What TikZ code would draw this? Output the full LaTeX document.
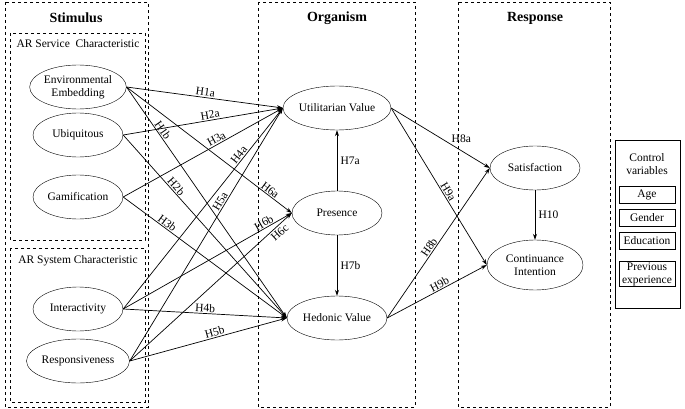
\documentclass[tikz,border=0pt]{standalone}
\usepackage{fontspec}
\setmainfont{Liberation Serif}
\usetikzlibrary{arrows.meta,shapes.geometric}
\begin{document}
\begin{tikzpicture}[x=1pt,y=-1pt,font=\fontsize{11.5}{13}\selectfont,
 el/.style={draw,ellipse,minimum width=90pt,minimum height=44pt,align=center,inner sep=0pt},
 box/.style={draw,dashed},
 ar/.style={-{Stealth[length=6pt,width=4pt]},line width=0.7pt},
 lb/.style={sloped,above,inner sep=1pt},
 hd/.style={font=\fontsize{14}{16}\selectfont\bfseries},
 cv/.style={draw,minimum width=56pt,minimum height=17pt,align=center,inner sep=1pt}]
\useasboundingbox (0,0) rectangle (685,409);
\draw[box] (5,2) rectangle (148,407);
\draw[box] (10,33) rectangle (145,240);
\draw[box] (10,248) rectangle (145,402);
\draw[box] (258,2) rectangle (415,407);
\draw[box] (458,2) rectangle (610,407);
\draw (615,140) rectangle (680,308);
\node[hd] (hs) at (76,18) {Stimulus};
\node[hd] (ho) at (337,18) {Organism};
\node[hd] (hr) at (535,18) {Response};
\node (s1) at (78,44) {AR Service\ \ Characteristic};
\node (s2) at (78,261) {AR System Characteristic};
\node[el] (ee) at (78,87) {Environmental\\Embedding};
\node[el] (ub) at (78,135) {Ubiquitous};
\node[el] (ga) at (78,197) {Gamification};
\node[el] (in) at (78,309) {Interactivity};
\node[el] (re) at (78,361) {Responsiveness};
\node[el,minimum width=100pt] (uv) at (337,108) {Utilitarian Value};
\node[el] (pr) at (337,213) {Presence};
\node[el,minimum width=100pt] (hv) at (337,318) {Hedonic Value};
\node[el] (sa) at (535,168) {Satisfaction};
\node[el,minimum width=96pt,minimum height=50pt] (ci) at (535,265) {Continuance\\Intention};
\node[align=center] (cvt) at (647,164) {Control\\variables};
\node[cv] (c1) at (647,195) {Age};
\node[cv] (c2) at (647,218) {Gender};
\node[cv] (c3) at (647,241) {Education};
\node[cv] (c4) at (647,274) {Previous\\experience};
\draw[ar] (ee.east) -- node[lb,pos=.5]{H1a} (uv.west);
\draw[ar] (ee.east) -- node[lb,pos=.2]{H1b} (hv.west);
\draw[ar] (ee.east) -- node[lb,pos=.85]{H6a} (pr.west);
\draw[ar] (ub.east) -- node[lb,pos=.55]{H2a} (uv.west);
\draw[ar] (ub.east) -- node[lb,pos=.3]{H2b} (hv.west);
\draw[ar] (ga.east) -- node[lb,pos=.6]{H3a} (uv.west);
\draw[ar] (ga.east) -- node[lb,pos=.25]{H3b} (hv.west);
\draw[ar] (in.east) -- node[lb,pos=.75]{H4a} (uv.west);
\draw[ar] (in.east) -- node[lb,pos=.5]{H4b} (hv.west);
\draw[ar] (in.east) -- node[lb,pos=.85]{H6b} (pr.west);
\draw[ar] (re.east) -- node[lb,pos=.62]{H5a} (uv.west);
\draw[ar] (re.east) -- node[lb,pos=.55]{H5b} (hv.west);
\draw[ar] (re.east) -- node[sloped,below,inner sep=2pt,pos=.9]{H6c} (pr.west);
\draw[ar] (pr) -- node[right]{H7a} (uv);
\draw[ar] (pr) -- node[right]{H7b} (hv);
\draw[ar] (uv.east) -- node[above right,pos=.6,inner sep=1pt]{H8a} (sa.west);
\draw[ar] (uv.east) -- node[lb,pos=.55]{H9a} (ci.west);
\draw[ar] (hv.east) -- node[lb,pos=.45]{H8b} (sa.west);
\draw[ar] (hv.east) -- node[lb,pos=.55]{H9b} (ci.west);
\draw[ar] (sa) -- node[right]{H10} (ci);
\end{tikzpicture}
\end{document}
